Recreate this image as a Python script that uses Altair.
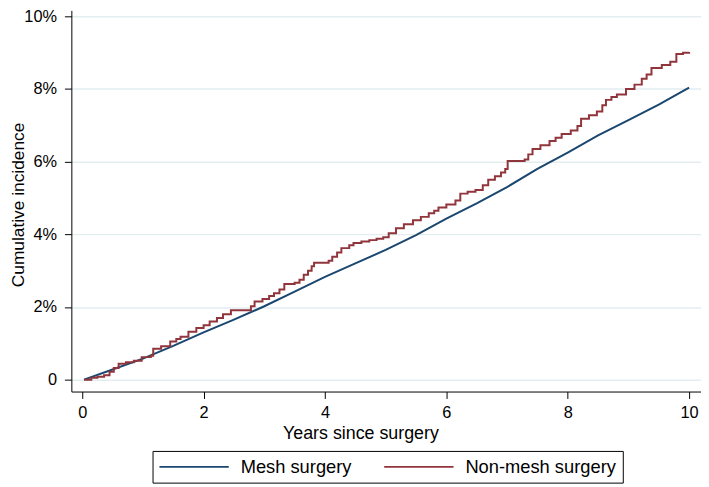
import altair as alt
import pandas as pd

groups = ["Mesh surgery", "Non-mesh surgery"]
colors = ["#1a476f", "#90353b"]
x_ticks = [0, 2, 4, 6, 8, 10]
y_ticks = [0, 2, 4, 6, 8, 10]

mesh_years = [0.03, 0.5, 1.0, 1.5, 2.0, 2.5, 3.0, 3.5, 4.0, 4.5, 5.0, 5.5,
              6.0, 6.5, 7.0, 7.5, 8.0, 8.5, 9.0, 9.5, 10.0]
mesh_inc = [0.0, 0.28, 0.58, 0.93, 1.30, 1.65, 2.02, 2.42, 2.83, 3.20, 3.57,
            3.98, 4.43, 4.85, 5.30, 5.80, 6.25, 6.72, 7.14, 7.57, 8.04]

nonmesh_years = [0.03, 0.15, 0.25, 0.36, 0.45, 0.52, 0.60, 0.72, 0.85, 0.98,
                 1.13, 1.17, 1.30, 1.45, 1.55, 1.62, 1.75, 1.88, 2.00, 2.10,
                 2.22, 2.32, 2.45, 2.78, 2.84, 2.97, 3.08, 3.16, 3.25, 3.33,
                 3.50, 3.58, 3.65, 3.72, 3.78, 3.82, 4.06, 4.12, 4.20, 4.27,
                 4.40, 4.47, 4.60, 4.73, 4.85, 4.96, 5.05, 5.17, 5.30, 5.45,
                 5.58, 5.71, 5.80, 5.87, 6.00, 6.15, 6.23, 6.35, 6.48, 6.60,
                 6.69, 6.80, 6.90, 6.97, 7.01, 7.29, 7.35, 7.42, 7.55, 7.70,
                 7.80, 7.90, 8.05, 8.16, 8.22, 8.35, 8.48, 8.57, 8.63, 8.72,
                 8.81, 8.96, 9.10, 9.22, 9.30, 9.38, 9.55, 9.69, 9.79, 9.90,
                 10.0]
nonmesh_inc = [0.00, 0.05, 0.08, 0.12, 0.22, 0.32, 0.44, 0.48, 0.52, 0.62,
               0.66, 0.85, 0.92, 1.05, 1.12, 1.18, 1.32, 1.42, 1.50, 1.60,
               1.70, 1.80, 1.91, 2.02, 2.15, 2.22, 2.30, 2.38, 2.48, 2.63,
               2.67, 2.75, 2.89, 3.00, 3.12, 3.22, 3.27, 3.38, 3.50, 3.62,
               3.70, 3.76, 3.80, 3.84, 3.88, 3.92, 4.03, 4.17, 4.28, 4.39,
               4.48, 4.58, 4.65, 4.74, 4.82, 4.93, 5.12, 5.17, 5.22, 5.35,
               5.50, 5.60, 5.70, 5.80, 6.02, 6.06, 6.20, 6.35, 6.45, 6.57,
               6.66, 6.76, 6.86, 6.98, 7.18, 7.28, 7.38, 7.55, 7.70, 7.78,
               7.85, 8.00, 8.12, 8.28, 8.40, 8.58, 8.66, 8.75, 8.96, 9.00,
               9.02]

df = pd.concat([
    pd.DataFrame({"years": mesh_years, "inc": mesh_inc, "group": groups[0]}),
    pd.DataFrame({"years": nonmesh_years, "inc": nonmesh_inc, "group": groups[1]}),
])

FONT = "Liberation Sans"

x_enc = alt.X("years:Q",
              scale=alt.Scale(domain=[-0.179, 10.196], nice=False, zero=False),
              axis=alt.Axis(values=x_ticks, title="Years since surgery", grid=False,
                            labelFontSize=16.5, titleFontSize=18, tickSize=7,
                            labelPadding=6, titleX=292, titleY=47,
                            titleBaseline="alphabetic", titleFontWeight="normal"))
y_enc = alt.Y("inc:Q",
              scale=alt.Scale(domain=[-0.327, 10.163], nice=False, zero=False),
              axis=alt.Axis(values=y_ticks, title="Cumulative incidence", grid=True,
                            labelExpr="datum.value == 0 ? '0' : datum.value + '%'",
                            labelFontSize=16.5, titleFontSize=17.5, tickSize=7,
                            labelPadding=8, titleX=-44, titleY=196, titleAngle=270,
                            titleBaseline="bottom", titleAlign="center",
                            titleFontWeight="normal"))
color_enc = alt.Color("group:N",
                      scale=alt.Scale(domain=groups, range=colors),
                      legend=alt.Legend(orient="none", legendX=82, legendY=445,
                                        direction="horizontal", title=None,
                                        strokeColor="black", padding=6,
                                        symbolType="stroke", symbolSize=4900,
                                        symbolStrokeWidth=1.8, clipHeight=20,
                                        labelFontSize=18.5, labelOffset=11,
                                        columnPadding=31, fillColor="white"))

base = alt.Chart(df).encode(x=x_enc, y=y_enc, color=color_enc)
mesh = base.transform_filter(alt.datum.group == groups[0]).mark_line(
    interpolate="linear", strokeWidth=2)
nonmesh = base.transform_filter(alt.datum.group == groups[1]).mark_line(
    interpolate="step-after", strokeWidth=2)

chart = alt.layer(mesh, nonmesh).properties(
    width=636, height=385,
    autosize=alt.AutoSizeParams(type="none"),
    padding={"left": 64, "top": 0, "right": 0, "bottom": 93},
    background="white",
).configure_view(stroke=None).configure_axis(
    domainColor="black", domainWidth=1, tickColor="black", tickWidth=1,
    labelColor="black", titleColor="black", labelFont=FONT, titleFont=FONT,
    gridColor="#e3edf0", gridWidth=1.5,
).configure_legend(labelFont=FONT, labelColor="black")

chart.save("out.html", embed_options={"renderer": "svg", "actions": False})
